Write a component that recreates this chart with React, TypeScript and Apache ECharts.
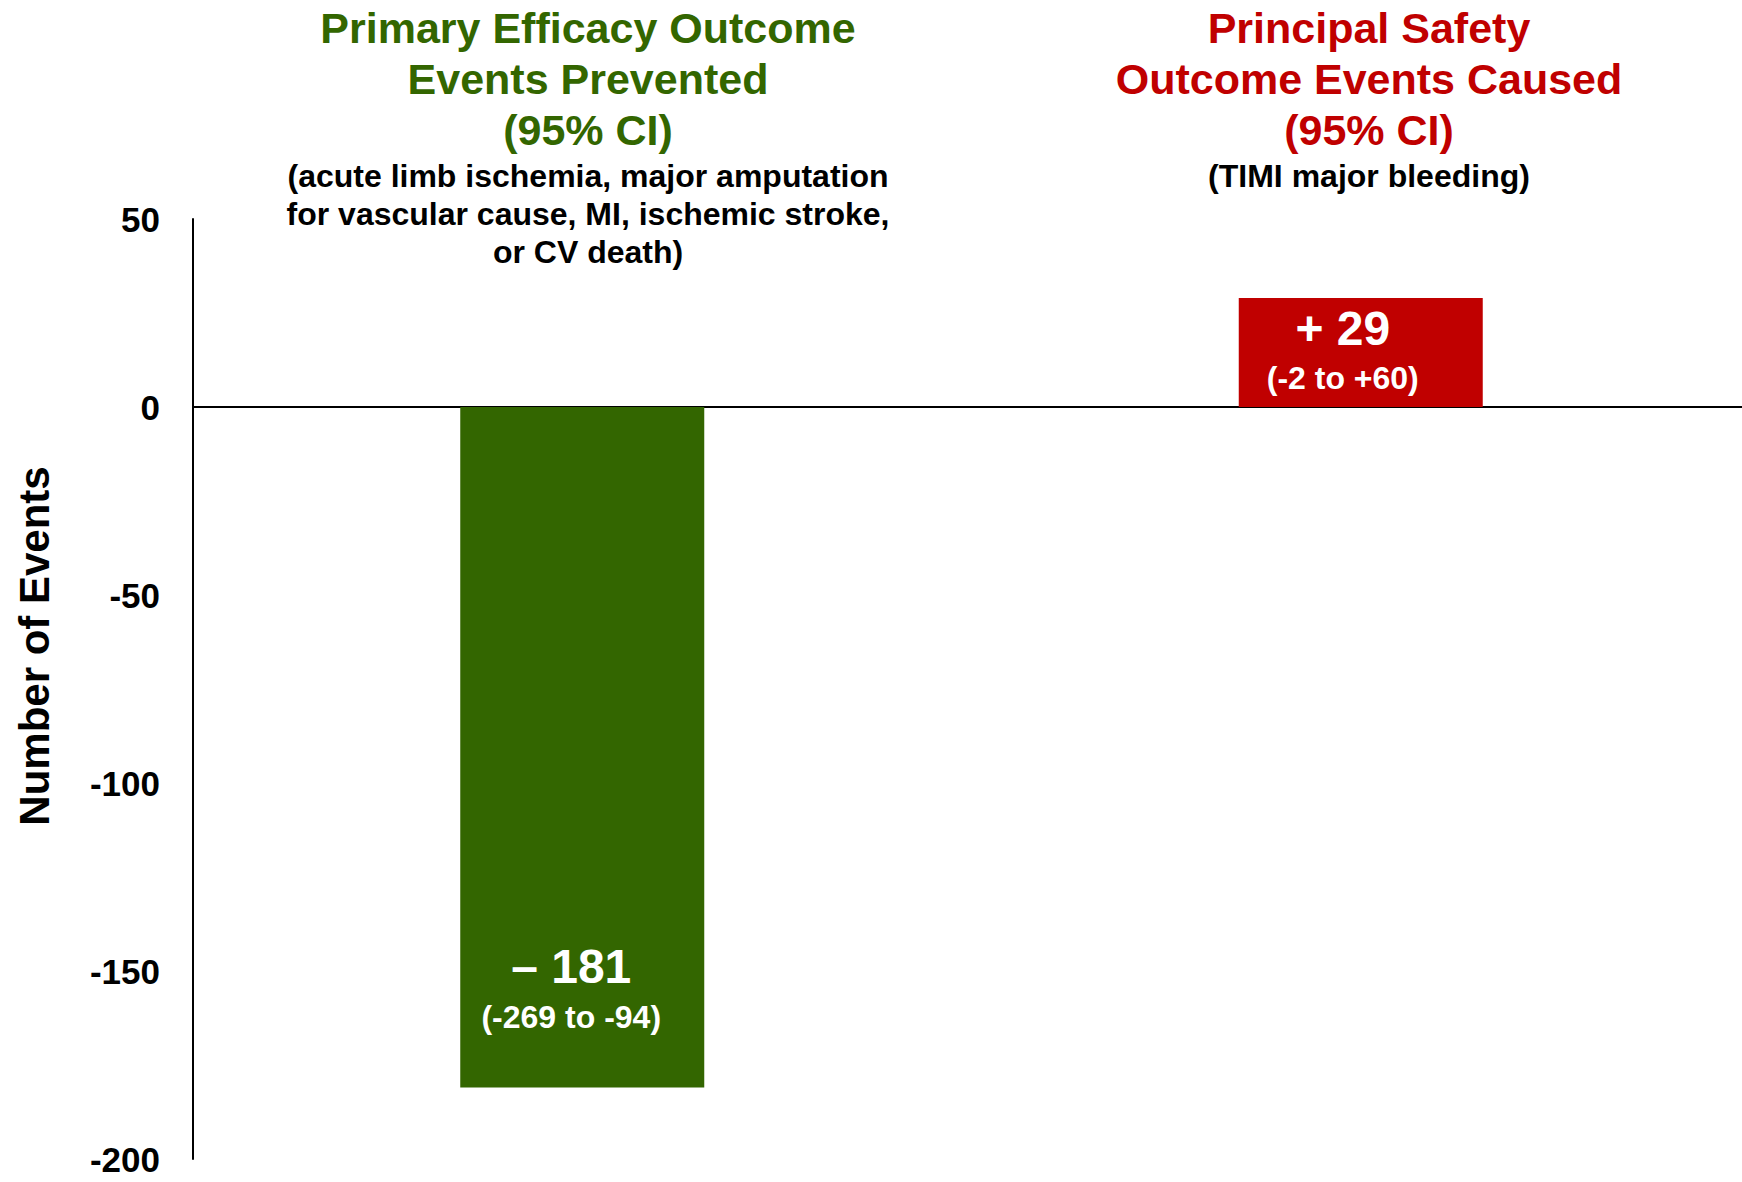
import React, { useEffect, useRef } from "react";
import * as echarts from "echarts";

// Net events per treatment comparison, with 95% confidence intervals
const categories = ["Efficacy", "Safety"];
const netEvents = [-181, 29];
const ciLow = [-269, -2];
const ciHigh = [-94, 60];
const barColors = ["#336600", "#C00000"];

// Axis settings
const yMin = -200;
const yMax = 50;
const yStep = 50;
const yAxisTitle = "Number of Events";

// Column headings above the plot
const efficacyTitle = ["Primary Efficacy Outcome", "Events Prevented", "(95% CI)"];
const efficacyNote = [
  "(acute limb ischemia, major amputation",
  "for vascular cause, MI, ischemic stroke,",
  "or CV death)",
];
const safetyTitle = ["Principal Safety", "Outcome Events Caused", "(95% CI)"];
const safetyNote = ["(TIMI major bleeding)"];

const FONT = '"Liberation Sans", Arial, Helvetica, sans-serif';

const fmtSigned = (v: number) => (v > 0 ? `+${v}` : `${v}`);
const fmtMain = (v: number) => (v < 0 ? `\u2013 ${Math.abs(v)}` : `+ ${v}`);

export default function App() {
  const ref = useRef<HTMLDivElement>(null);

  useEffect(() => {
    if (!ref.current) return;
    const chart = echarts.init(ref.current, undefined, { renderer: "svg" });

    const labelRich = {
      a: { color: "#fff", fontSize: 48, fontWeight: "bold", lineHeight: 54, fontFamily: FONT },
      b: { color: "#fff", fontSize: 32, fontWeight: "bold", lineHeight: 46, fontFamily: FONT },
    };

    const barData = netEvents.map((v, i) => ({
      value: v,
      itemStyle: { color: barColors[i] },
      label:
        v < 0
          ? { position: "insideBottom", distance: 48, offset: [-11, 0] }
          : { position: "inside", offset: [-18, -1] },
    }));

    const headingText = (lines: string[], x: number, y: number, color: string, size: number, lh: number) => ({
      type: "text",
      x,
      y,
      style: {
        text: lines.join("\n"),
        fill: color,
        font: `bold ${size}px ${FONT}`,
        fontWeight: "bold",
        fontSize: size,
        fontFamily: FONT,
        lineHeight: lh,
        align: "center",
        verticalAlign: "top",
      },
    });

    chart.setOption({
      animation: false,
      grid: { left: 193, right: 0, top: 219, bottom: 23, containLabel: false },
      xAxis: {
        type: "category",
        data: categories,
        axisLine: { onZero: true, lineStyle: { color: "#000", width: 2 } },
        axisTick: { show: false },
        axisLabel: { show: false },
        splitLine: { show: false },
      },
      yAxis: {
        type: "value",
        min: yMin,
        max: yMax,
        interval: yStep,
        axisLine: { show: true, lineStyle: { color: "#000", width: 2 } },
        axisTick: { show: false },
        splitLine: { show: false },
        axisLabel: {
          color: "#000",
          fontSize: 35,
          fontWeight: "bold",
          fontFamily: FONT,
          margin: 33,
        },
      },
      series: [
        {
          type: "bar",
          data: barData,
          barWidth: 244,
          label: {
            show: true,
            formatter: (p: any) =>
              `{a|${fmtMain(netEvents[p.dataIndex])}}\n{b|(${fmtSigned(ciLow[p.dataIndex])} to ${fmtSigned(ciHigh[p.dataIndex])})}`,
            rich: labelRich,
            align: "center",
          },
        },
      ],
      graphic: [
        headingText(efficacyTitle, 588, 2, "#336600", 43, 51),
        headingText(efficacyNote, 588, 157, "#000", 32, 38),
        headingText(safetyTitle, 1369, 2, "#C00000", 43, 51),
        headingText(safetyNote, 1369, 157, "#000", 32, 38),
        {
          type: "text",
          x: 34,
          y: 646,
          rotation: Math.PI / 2,
          style: {
            text: yAxisTitle,
            fill: "#000",
            font: `bold 42px ${FONT}`,
            fontSize: 42,
            fontWeight: "bold",
            fontFamily: FONT,
            align: "center",
            verticalAlign: "middle",
          },
        },
      ],
    });

    return () => chart.dispose();
  }, []);

  // The plot area runs a few pixels past the right edge of the frame, so the
  // outer box clips it while the zero line still reaches the edge.
  return (
    <div
      style={{
        position: "fixed",
        left: 0,
        top: 0,
        width: 1742,
        height: 1182,
        overflow: "hidden",
        background: "#fff",
      }}
    >
      <div ref={ref} style={{ width: 1750, height: 1182 }} />
    </div>
  );
}
